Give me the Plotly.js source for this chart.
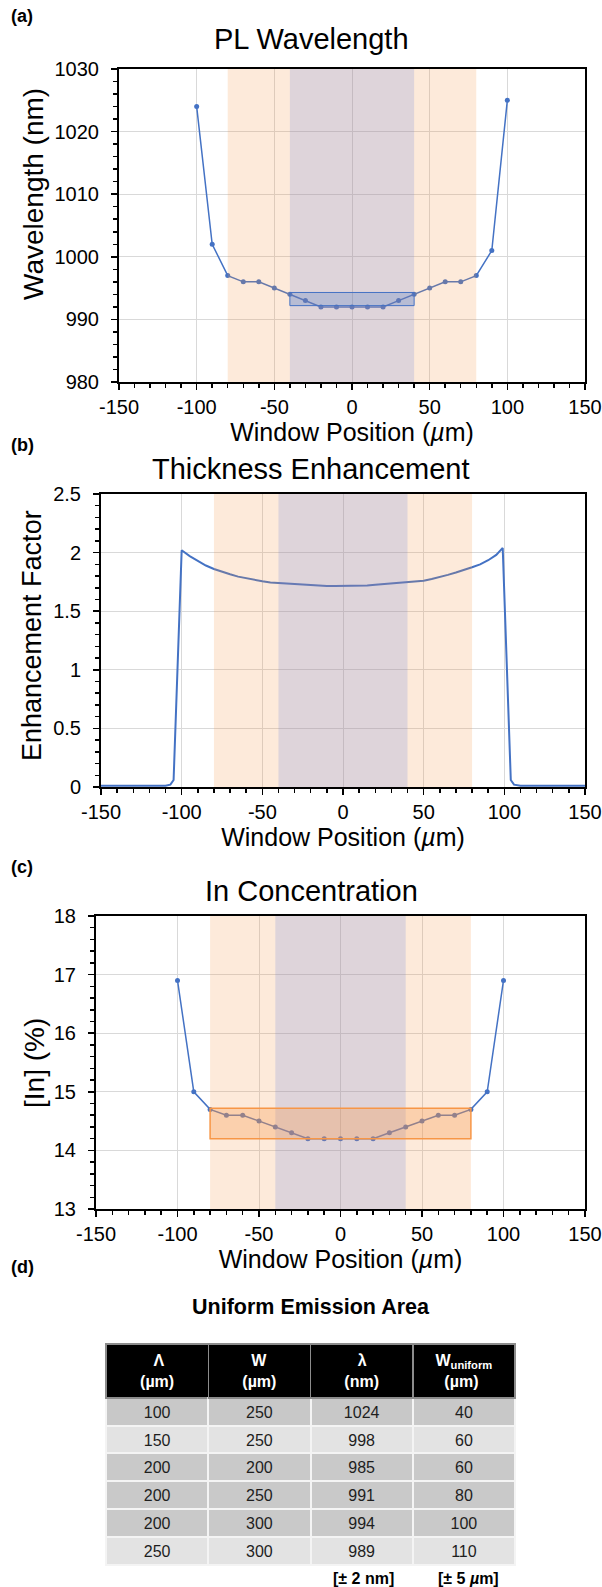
<!DOCTYPE html>
<html>
<head>
<meta charset="utf-8">
<script src="https://cdn.plot.ly/plotly-3.0.1.min.js"></script>
<style>html,body{margin:0;padding:0;background:#fff;}#chart{width:602px;height:1587px;}</style>
</head>
<body>
<div id="chart"></div>
<script>
// ---------- data ----------
const xPos = [-100,-90,-80,-70,-60,-50,-40,-30,-20,-10,0,10,20,30,40,50,60,70,80,90,100];
const wavelength = [1024,1002,997,996,996,995,994,993,992,992,992,992,992,993,994,995,996,996,997,1001,1025];
const xThick = [-150,-140,-130,-120,-110,-107,-105,-100,-95,-90,-85,-80,-75,-70,-65,-60,-55,-50,-45,-40,-35,-30,-25,-20,-15,-10,-5,0,5,10,15,20,25,30,35,40,45,50,55,60,65,70,75,80,85,90,95,99,104,106,110,120,130,140,150];
const thickness = [0.01,0.01,0.01,0.01,0.01,0.02,0.06,2.02,1.97,1.93,1.89,1.86,1.835,1.815,1.795,1.78,1.765,1.755,1.745,1.74,1.735,1.73,1.725,1.72,1.72,1.715,1.715,1.715,1.715,1.72,1.72,1.725,1.73,1.735,1.74,1.745,1.75,1.76,1.775,1.79,1.81,1.83,1.85,1.875,1.90,1.935,1.98,2.04,0.06,0.02,0.01,0.01,0.01,0.01,0.01];
const inConc = [16.9,15.0,14.7,14.6,14.6,14.5,14.4,14.3,14.2,14.2,14.2,14.2,14.2,14.3,14.4,14.5,14.6,14.6,14.7,15.0,16.9];
const xTickVals = [-150,-100,-50,0,50,100,150];
const xTickText = ['-150','-100','-50','0','50','100','150'];
const NB = '\u00a0';
const headerLabels = [
  '<b>' + NB + NB + NB + 'Λ</b><br><b>(µm)</b>',
  '<b>' + NB + NB + 'W</b><br><b>(µm)</b>',
  '<b>' + NB + NB + NB + 'λ</b><br><b>(nm)</b>',
  '<b>W<sub>uniform</sub></b><br><b>' + NB + NB + '(µm)</b>'
];
const colPeriod = ['100','150','200','200','200','250'];
const colWidth = ['250','250','200','250','300','300'];
const colLambda = ['1024','998','985','991','994','989'];
const colWUniform = ['40','60','60','80','100','110'];
const rowFill = ['#c8c8c8','#e3e3e3','#c9c9c9','#c9c9c9','#c9c9c9','#e3e3e3'];

// ---------- helpers ----------
const W = 602, H = 1587;
const FONT = 'Liberation Sans, Arial, sans-serif';
const px = v => v / W;
const py = v => 1 - v / H;
const BLUE = 'rgb(68,114,196)';
const ORANGE = 'rgb(247,150,70)';

function xAxis(dom, anchor) {
  return {
    domain: [px(dom[0]), px(dom[1])], anchor: anchor, range: [-150,150],
    tickvals: xTickVals, ticktext: xTickText,
    ticks: 'outside', ticklen: 6, tickwidth: 1.5, tickcolor: '#000',
    minor: {dtick: 10, tick0: 0, ticks: 'outside', ticklen: 4, tickwidth: 1.5, tickcolor: '#000', showgrid: false},
    showline: true, linecolor: '#000', linewidth: 2, mirror: true,
    showgrid: true, gridcolor: '#d9d9d9', gridwidth: 1, zeroline: false,
    tickfont: {family: FONT, size: 20, color: '#000'},
    title: {text: 'Window Position (<i>µ</i>m)', font: {family: FONT, size: 25, color: '#000'}, standoff: 4}
  };
}
function yAxis(dom, anchor, range, dtick, minor) {
  return {
    domain: [py(dom[1]), py(dom[0])], anchor: anchor, range: range, dtick: dtick, tick0: range[0],
    ticks: 'outside', ticklen: 6, tickwidth: 1.5, tickcolor: '#000', ticklabelstandoff: 8,
    minor: {dtick: minor, tick0: range[0], ticks: 'outside', ticklen: 4, tickwidth: 1.5, tickcolor: '#000', showgrid: false},
    showline: true, linecolor: '#000', linewidth: 2, mirror: true,
    showgrid: true, gridcolor: '#d9d9d9', gridwidth: 1, zeroline: false,
    tickfont: {family: FONT, size: 20, color: '#000'}
  };
}

const traces = [
  {type: 'scatter', mode: 'lines+markers', x: xPos, y: wavelength, xaxis: 'x', yaxis: 'y',
   line: {color: BLUE, width: 1.5}, marker: {color: BLUE, size: 5}, hoverinfo: 'none', showlegend: false},
  {type: 'scatter', mode: 'lines', x: xThick, y: thickness, xaxis: 'x2', yaxis: 'y2',
   line: {color: BLUE, width: 2}, hoverinfo: 'none', showlegend: false},
  {type: 'scatter', mode: 'lines+markers', x: xPos, y: inConc, xaxis: 'x3', yaxis: 'y3',
   line: {color: BLUE, width: 1.5}, marker: {color: BLUE, size: 5}, hoverinfo: 'none', showlegend: false},
  {type: 'table', domain: {x: [px(106), px(516)], y: [0, py(1344)]},
   columnwidth: [1,1,1,1],
   header: {values: headerLabels, fill: {color: '#000'}, align: 'center', height: 48,
            line: {color: '#8c8c8c', width: 1.5},
            font: {family: FONT, size: 16, color: '#fff'}},
   cells: {values: [colPeriod, colWidth, colLambda, colWUniform],
           fill: {color: [rowFill, rowFill, rowFill, rowFill]}, align: 'center', height: 27.8,
           line: {color: '#f4f4f4', width: 2},
           font: {family: FONT, size: 16, color: '#1e1e1e'}}}
];

function bands(xa, ya) {
  return [
    {type: 'rect', xref: xa, yref: ya + ' domain', x0: -80, x1: 80, y0: 0, y1: 1,
     fillcolor: 'rgba(247,150,70,0.2)', line: {width: 0}, layer: 'above'},
    {type: 'rect', xref: xa, yref: ya + ' domain', x0: -40, x1: 40, y0: 0, y1: 1,
     fillcolor: 'rgba(98,124,218,0.2)', line: {width: 0}, layer: 'above'}
  ];
}

const shapes = [].concat(
  bands('x', 'y'),
  [{type: 'rect', xref: 'x', yref: 'y', x0: -40, x1: 40, y0: 992.2, y1: 994.3,
    fillcolor: 'rgba(68,114,196,0.25)', line: {color: BLUE, width: 1}, layer: 'above'}],
  bands('x2', 'y2'),
  bands('x3', 'y3'),
  [{type: 'rect', xref: 'x3', yref: 'y3', x0: -80, x1: 80, y0: 14.2, y1: 14.72,
    fillcolor: 'rgba(247,150,70,0.3)', line: {color: ORANGE, width: 1.5}, layer: 'above'}]
);

function ann(text, x, y, size, bold, xanchor, angle) {
  return {text: bold ? '<b>' + text + '</b>' : text, xref: 'paper', yref: 'paper', x: px(x), y: py(y),
          xanchor: xanchor || 'center', yanchor: 'middle', showarrow: false, textangle: angle || 0,
          font: {family: FONT, size: size, color: '#000'}};
}

const annotations = [
  ann('(a)', 9, 16, 18, true, 'left'),
  ann('PL Wavelength', 311, 39, 29, false),
  ann('Wavelength (nm)', 34, 194, 28, false, 'center', -90),
  ann('(b)', 9, 445, 18, true, 'left'),
  ann('Thickness Enhancement', 311, 469, 29, false),
  ann('Enhancement Factor', 32, 636, 27, false, 'center', -90),
  ann('(c)', 9, 867, 18, true, 'left'),
  ann('In Concentration', 311, 891, 29, false),
  ann('[In] (%)', 34, 1063, 28, false, 'center', -90),
  ann('(d)', 9, 1267, 18, true, 'left'),
  ann('Uniform Emission Area', 311, 1307, 21.5, true),
  ann('[± 2 nm]', 363, 1578, 16, true),
  ann('[± 5 <i>µ</i>m]', 468, 1578, 16, true)
];

const layout = {
  width: W, height: H, margin: {l: 0, r: 0, t: 0, b: 0},
  paper_bgcolor: '#fff', plot_bgcolor: '#fff', showlegend: false,
  font: {family: FONT, color: '#000'},
  xaxis: xAxis([119, 585], 'y'),
  yaxis: yAxis([69, 382], 'x', [980, 1030], 10, 2),
  xaxis2: xAxis([101, 585], 'y2'),
  yaxis2: yAxis([494, 787], 'x2', [0, 2.5], 0.5, 0.1),
  xaxis3: xAxis([96, 585], 'y3'),
  yaxis3: yAxis([916, 1209], 'x3', [13, 18], 1, 0.2),
  shapes: shapes,
  annotations: annotations
};

Plotly.newPlot('chart', traces, layout, {staticPlot: true, displayModeBar: false});
</script>
</body>
</html>
